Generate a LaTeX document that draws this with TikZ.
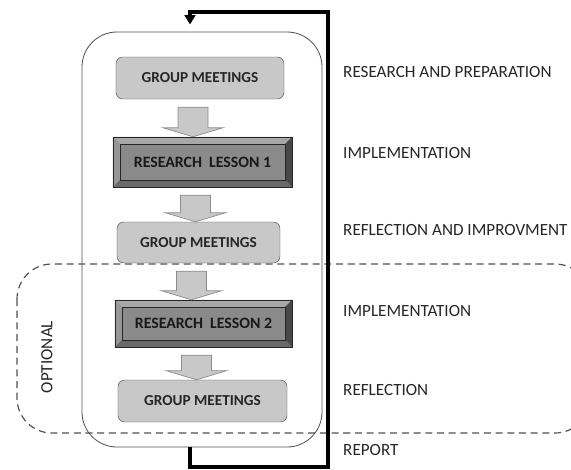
\documentclass[tikz,border=0pt]{standalone}
\usepackage{fontspec}
\setmainfont{Carlito}
\usetikzlibrary{positioning,calc,arrows.meta}
\definecolor{MeetGray}{RGB}{200,200,200}
\definecolor{LessonGray}{RGB}{138,138,138}
\definecolor{BevelTop}{RGB}{168,168,168}
\definecolor{BevelLeft}{RGB}{150,150,150}
\definecolor{BevelRight}{RGB}{72,72,72}
\definecolor{BevelBottom}{RGB}{105,105,105}
\definecolor{FrameGray}{RGB}{80,80,80}
\tikzset{
  meeting/.style={draw=FrameGray, fill=MeetGray, rounded corners=0.2cm,
    minimum width=5.04cm, minimum height=1.26cm,
    font=\fontsize{13}{15}\selectfont\bfseries, text=black!85},
  lesson/.style={draw=black!85, fill=LessonGray,
    minimum width=5.37cm, minimum height=1.5cm},
  lessontext/.style={font=\fontsize{13.5}{15}\selectfont\bfseries, text=black!90},
  phase/.style={anchor=west, inner sep=0pt, font=\fontsize{14.6}{16}\selectfont, text=black!85},
  blockarrow/.style={draw=black!45, fill=MeetGray, line width=0.6pt},
  feedback/.style={line width=3.4pt, -{Triangle[length=8pt,width=9pt]}, shorten >=6pt},
}
% block arrow between two stacked boxes
\newcommand{\blockarrow}[2]{%
  \coordinate (ta) at ($(#1.south)+(-7,8)$);
  \coordinate (tb) at (ta |- #2.north);
  \draw[blockarrow] ($(ta)+(-15,0)$) -- ($(ta)+(15,0)$) -- ($(tb)+(15,-9)$)
    -- ($(tb)+(30,-9)$) -- (tb) -- ($(tb)+(-30,-9)$) -- ($(tb)+(-15,-9)$) -- cycle;}
% bevelled edge of a lesson box
\newcommand{\lessonbevel}[1]{%
  \fill[BevelTop] (#1.north west) -- (#1.north east) -- ($(#1.north east)+(-7,7)$) -- ($(#1.north west)+(7,7)$) -- cycle;
  \fill[BevelLeft] (#1.north west) -- ($(#1.north west)+(7,7)$) -- ($(#1.south west)+(7,-7)$) -- (#1.south west) -- cycle;
  \fill[BevelRight] (#1.north east) -- ($(#1.north east)+(-7,7)$) -- ($(#1.south east)+(-7,-7)$) -- (#1.south east) -- cycle;
  \fill[BevelBottom] (#1.south west) -- ($(#1.south west)+(7,-7)$) -- ($(#1.south east)+(-7,-7)$) -- (#1.south east) -- cycle;
  \draw[black!85] (#1.north west) rectangle (#1.south east);
  \draw[black!85] ($(#1.north west)+(7,7)$) rectangle ($(#1.south east)+(-7,-7)$);}

\begin{document}
\begin{tikzpicture}[x=0.03cm, y=-0.03cm]
        \useasboundingbox (0,0) rectangle (571,469);
        % optional part
        \begin{scope}
            \clip (0,0) rectangle (571,469);
            \draw[FrameGray, line width=1pt, dash pattern=on 6pt off 4pt, rounded corners=1.05cm] (17,264) rectangle (590,433);
        \end{scope}
        \node[rotate=90, font=\fontsize{14.6}{16}\selectfont, text=black!85] (optional) at (47,357) {OPTIONAL};
        % whole cycle
        \node[draw=FrameGray, line width=0.7pt, rounded corners=1.05cm, minimum width=7.2cm, minimum height=12.45cm] (frame) at (202,239.5) {};
        % steps
        \node[meeting] (meet1) at (200,78) {GROUP MEETINGS};
        \node[lesson] (lesson1) at (202.5,162) {};
        \lessonbevel{lesson1}
        \node[lessontext] at (lesson1) {RESEARCH\ \ LESSON 1};
        \node[meeting, minimum width=4.89cm, minimum height=1.23cm] (meet2) at (198.5,242.5) {GROUP MEETINGS};
        \node[lesson, minimum width=5.31cm, minimum height=1.41cm] (lesson2) at (203.5,323.5) {};
        \lessonbevel{lesson2}
        \node[lessontext] at (lesson2) {RESEARCH\ \ LESSON 2};
        \node[meeting, minimum width=5.07cm] (meet3) at (202.5,401) {GROUP MEETINGS};
        \blockarrow{meet1}{lesson1}
        \blockarrow{lesson1}{meet2}
        \blockarrow{meet2}{lesson2}
        \blockarrow{lesson2}{meet3}
        % feedback loop
        \coordinate (loopx) at (190,0);
        \coordinate (loopr) at (328,12);
        \draw[feedback] (loopx |- frame.south) -- ++(0,20) -| (loopr) -| (loopx |- frame.north);
        % phases
        \node[phase] (p1) at (343,72) {RESEARCH AND PREPARATION};
        \node[phase] (p2) at (343,153) {IMPLEMENTATION};
        \node[phase] (p3) at (343,230) {REFLECTION AND IMPROVMENT};
        \node[phase] (p4) at (343,311) {IMPLEMENTATION};
        \node[phase] (p5) at (343,390) {REFLECTION};
        \node[phase] (p6) at (343,450) {REPORT};
\end{tikzpicture}
\end{document}
